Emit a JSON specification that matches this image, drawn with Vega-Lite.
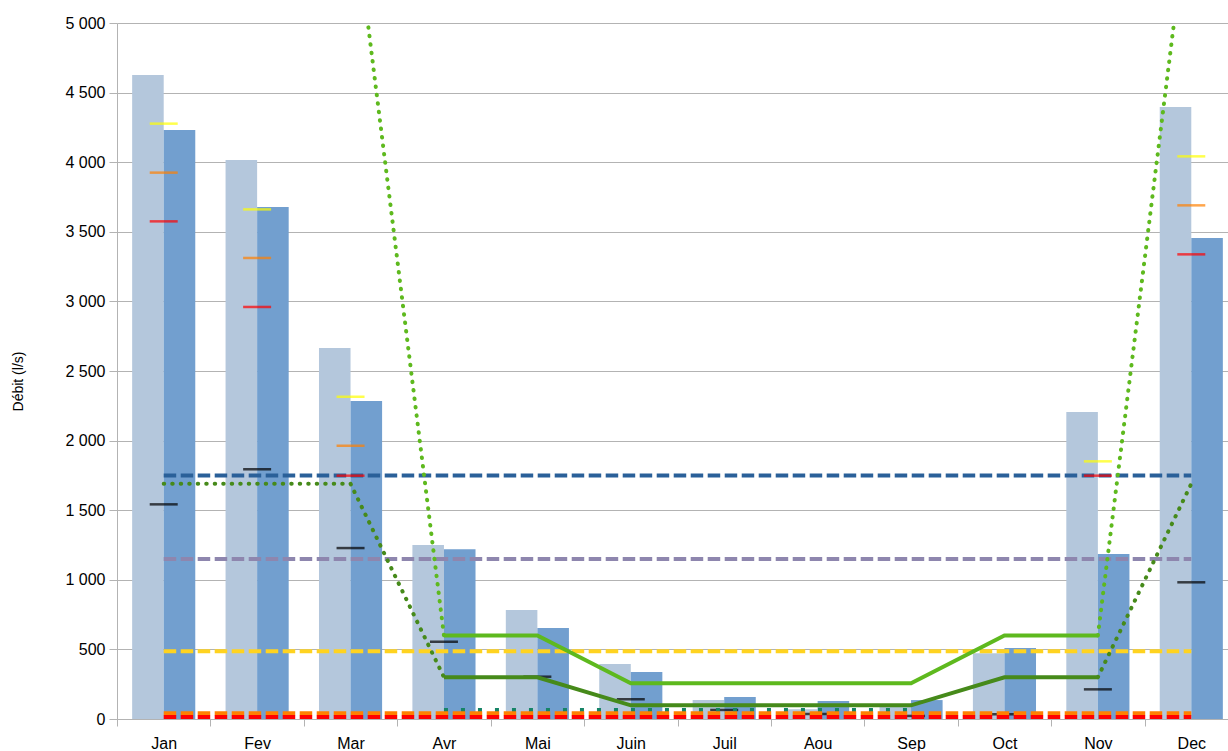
{
  "$schema": "https://vega.github.io/schema/vega-lite/v6.json",
  "autosize": "none",
  "width": 1121,
  "height": 696,
  "padding": {"left": 117, "top": 23, "right": 0, "bottom": 32},
  "background": "white",
  "config": {
    "font": "Liberation Sans",
    "view": {"stroke": null},
    "axis": {"labelFont": "Liberation Sans", "titleFont": "Liberation Sans", "labelColor": "#000000", "titleColor": "#000000"}
  },
  "datasets": {
    "bars": [
      {"month": "Jan", "series": "A", "value": 4626}, {"month": "Jan", "series": "B", "value": 4231},
      {"month": "Fev", "series": "A", "value": 4016}, {"month": "Fev", "series": "B", "value": 3678},
      {"month": "Mar", "series": "A", "value": 2665}, {"month": "Mar", "series": "B", "value": 2284},
      {"month": "Avr", "series": "A", "value": 1250}, {"month": "Avr", "series": "B", "value": 1219},
      {"month": "Mai", "series": "A", "value": 783}, {"month": "Mai", "series": "B", "value": 654},
      {"month": "Juin", "series": "A", "value": 395}, {"month": "Juin", "series": "B", "value": 338},
      {"month": "Juil", "series": "A", "value": 136}, {"month": "Juil", "series": "B", "value": 158},
      {"month": "Aou", "series": "A", "value": 70}, {"month": "Aou", "series": "B", "value": 129},
      {"month": "Sep", "series": "A", "value": 88}, {"month": "Sep", "series": "B", "value": 136},
      {"month": "Oct", "series": "A", "value": 472}, {"month": "Oct", "series": "B", "value": 510},
      {"month": "Nov", "series": "A", "value": 2205}, {"month": "Nov", "series": "B", "value": 1185},
      {"month": "Dec", "series": "A", "value": 4397}, {"month": "Dec", "series": "B", "value": 3455}
    ],
    "ticks": [
      {"month": "Jan", "kind": "yellow", "value": 4277}, {"month": "Jan", "kind": "orange", "value": 3925}, {"month": "Jan", "kind": "red", "value": 3575}, {"month": "Jan", "kind": "black", "value": 1542},
      {"month": "Fev", "kind": "yellow", "value": 3661}, {"month": "Fev", "kind": "orange", "value": 3312}, {"month": "Fev", "kind": "red", "value": 2960}, {"month": "Fev", "kind": "black", "value": 1794},
      {"month": "Mar", "kind": "yellow", "value": 2315}, {"month": "Mar", "kind": "orange", "value": 1963}, {"month": "Mar", "kind": "red", "value": 1748}, {"month": "Mar", "kind": "black", "value": 1228},
      {"month": "Avr", "kind": "black", "value": 555},
      {"month": "Mai", "kind": "black", "value": 304},
      {"month": "Juin", "kind": "black", "value": 141},
      {"month": "Juil", "kind": "black", "value": 65},
      {"month": "Aou", "kind": "black", "value": 36},
      {"month": "Sep", "kind": "black", "value": 22},
      {"month": "Oct", "kind": "black", "value": 34},
      {"month": "Nov", "kind": "yellow", "value": 1851}, {"month": "Nov", "kind": "red", "value": 1748}, {"month": "Nov", "kind": "black", "value": 213},
      {"month": "Dec", "kind": "yellow", "value": 4042}, {"month": "Dec", "kind": "orange", "value": 3690}, {"month": "Dec", "kind": "red", "value": 3338}, {"month": "Dec", "kind": "black", "value": 982}
    ],
    "dashed": [
      {"month": "Jan", "line": "blue", "value": 1750}, {"month": "Dec", "line": "blue", "value": 1750},
      {"month": "Jan", "line": "purple", "value": 1150}, {"month": "Dec", "line": "purple", "value": 1150},
      {"month": "Jan", "line": "yellow", "value": 487}, {"month": "Dec", "line": "yellow", "value": 487}
    ],
    "lowdashed": [
      {"month": "Jan", "line": "orange", "value": 42}, {"month": "Dec", "line": "orange", "value": 42},
      {"month": "Jan", "line": "red", "value": 15}, {"month": "Dec", "line": "red", "value": 15}
    ],
    "teal": [
      {"month": "Avr", "value": 65}, {"month": "Mai", "value": 65}, {"month": "Juin", "value": 65},
      {"month": "Juil", "value": 65}, {"month": "Aou", "value": 65}, {"month": "Sep", "value": 65}
    ],
    "dotlight": [
      {"month": "Jan", "seg": "s1", "value": 6000}, {"month": "Fev", "seg": "s1", "value": 6000}, {"month": "Mar", "seg": "s1", "value": 6000},
      {"month": "Avr", "seg": "s1", "value": 600},
      {"month": "Nov", "seg": "s2", "value": 600}, {"month": "Dec", "seg": "s2", "value": 6000}
    ],
    "dotdark": [
      {"month": "Jan", "seg": "s1", "value": 1690}, {"month": "Fev", "seg": "s1", "value": 1690}, {"month": "Mar", "seg": "s1", "value": 1690},
      {"month": "Avr", "seg": "s1", "value": 300},
      {"month": "Nov", "seg": "s2", "value": 300}, {"month": "Dec", "seg": "s2", "value": 1690}
    ],
    "solidlight": [
      {"month": "Avr", "value": 600}, {"month": "Mai", "value": 600}, {"month": "Juin", "value": 256},
      {"month": "Juil", "value": 256}, {"month": "Aou", "value": 256}, {"month": "Sep", "value": 256},
      {"month": "Oct", "value": 600}, {"month": "Nov", "value": 600}
    ],
    "soliddark": [
      {"month": "Avr", "value": 300}, {"month": "Mai", "value": 300}, {"month": "Juin", "value": 98},
      {"month": "Juil", "value": 98}, {"month": "Aou", "value": 98}, {"month": "Sep", "value": 98},
      {"month": "Oct", "value": 300}, {"month": "Nov", "value": 300}
    ]
  },
  "encoding": {
    "x": {
      "field": "month", "type": "nominal",
      "sort": ["Jan", "Fev", "Mar", "Avr", "Mai", "Juin", "Juil", "Aou", "Sep", "Oct", "Nov", "Dec"],
      "scale": {"domain": ["Jan", "Fev", "Mar", "Avr", "Mai", "Juin", "Juil", "Aou", "Sep", "Oct", "Nov", "Dec"], "paddingInner": 0, "paddingOuter": 0},
      "axis": {
        "title": null, "labelAngle": 0, "labelFontSize": 16, "labelPadding": 9,
        "tickBand": "extent", "tickSize": 7, "tickColor": "#b3b3b3", "domainColor": "#b3b3b3",
        "grid": false
      }
    },
    "y": {
      "field": "value", "type": "quantitative",
      "scale": {"domain": [0, 5000], "nice": false, "zero": true},
      "axis": {
        "title": "Débit (l/s)", "titleFontSize": 14, "titleFontWeight": "normal",
        "titleX": -92, "titleY": 358, "titleAngle": -90, "titleBaseline": "bottom", "titleAlign": "center",
        "values": [0, 500, 1000, 1500, 2000, 2500, 3000, 3500, 4000, 4500, 5000],
        "labelExpr": "replace(format(datum.value, ','), ',', ' ')",
        "labelFontSize": 16, "labelPadding": 4, "tickSize": 8, "tickColor": "#b3b3b3",
        "domainColor": "#b3b3b3", "grid": true, "gridColor": "#b3b3b3", "gridWidth": 1
      }
    }
  },
  "layer": [
    {
      "data": {"name": "bars"},
      "mark": {"type": "bar"},
      "encoding": {
        "xOffset": {"field": "series", "type": "nominal", "sort": ["A", "B"], "scale": {"paddingInner": 0, "paddingOuter": 0.48}},
        "color": {"field": "series", "type": "nominal", "scale": {"domain": ["A", "B"], "range": ["#b4c7dc", "#729fcf"]}, "legend": null}
      }
    },
    {
      "data": {"name": "dashed"},
      "mark": {"type": "line", "strokeWidth": 4, "strokeDash": [12.5, 4.5]},
      "encoding": {
        "detail": {"field": "line"},
        "stroke": {"field": "line", "type": "nominal", "scale": {"domain": ["blue", "purple", "yellow"], "range": ["#2a6099", "#8e86ae", "#ffd320"]}, "legend": null}
      }
    },
    {
      "data": {"name": "dotlight"},
      "mark": {"type": "line", "clip": true, "stroke": "#5eb91e", "strokeWidth": 4, "strokeDash": [0.5, 8], "strokeCap": "round"},
      "encoding": {"detail": {"field": "seg"}}
    },
    {
      "data": {"name": "dotdark"},
      "mark": {"type": "line", "clip": true, "stroke": "#468a1a", "strokeWidth": 4, "strokeDash": [0.5, 8], "strokeCap": "round"},
      "encoding": {"detail": {"field": "seg"}}
    },
    {
      "data": {"name": "ticks"},
      "mark": {"type": "tick", "size": 28, "thickness": 2.5, "orient": "horizontal"},
      "encoding": {
        "color": {"field": "kind", "type": "nominal", "scale": {"domain": ["yellow", "orange", "red", "black"], "range": ["#ffff00", "#ff8000", "#ff0000", "#000000"]}, "legend": null}
      }
    },
    {
      "data": {"name": "teal"},
      "mark": {"type": "line", "stroke": "#158466", "strokeWidth": 4, "strokeDash": [4, 13]},
      "encoding": {}
    },
    {
      "data": {"name": "lowdashed"},
      "mark": {"type": "line", "strokeWidth": 4, "strokeDash": [12.5, 4.5]},
      "encoding": {
        "detail": {"field": "line"},
        "stroke": {"field": "line", "type": "nominal", "scale": {"domain": ["orange", "red"], "range": ["#ff8000", "#ff0000"]}, "legend": null}
      }
    },
    {
      "data": {"name": "solidlight"},
      "mark": {"type": "line", "stroke": "#5eb91e", "strokeWidth": 4},
      "encoding": {}
    },
    {
      "data": {"name": "soliddark"},
      "mark": {"type": "line", "stroke": "#468a1a", "strokeWidth": 4},
      "encoding": {}
    }
  ],
  "resolve": {"scale": {"color": "independent", "stroke": "independent"}}
}
